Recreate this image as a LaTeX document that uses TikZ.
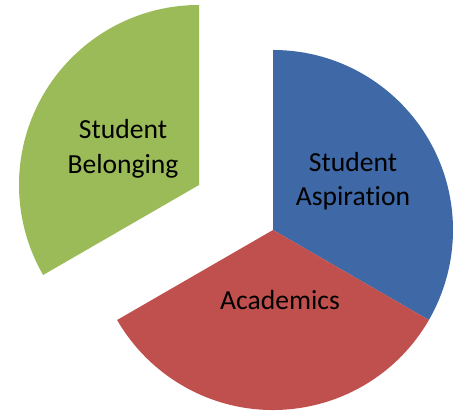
\documentclass[tikz,border=0pt]{standalone}
\usepackage{fontspec}
\setmainfont{Carlito}[Ligatures=NoCommon]
\begin{document}
\begin{tikzpicture}[x=0.02cm,y=0.02cm]

% Define the colors
\definecolor{piegreen}{RGB}{155,187,89}
\definecolor{pieblue}{RGB}{62,104,166}
\definecolor{piered}{RGB}{192,80,77}

\tikzset{slicelabel/.style={align=center, text=black, font=\fontsize{15.7}{19.6}\selectfont}}

\useasboundingbox (0,0) rectangle (464,412);

% Centres of the slices
\coordinate (middle) at (273,182);
\coordinate (pulled) at (199,227);

% Draw the blue slice
\fill[pieblue] (middle) -- ++(90:180) arc (90:-30:180) -- cycle;

% Draw the red slice
\fill[piered] (middle) -- ++(-30:180) arc (-30:-150:180) -- cycle;

% Draw the green slice
\fill[piegreen] (pulled) -- ++(90:180) arc (90:210:180) -- cycle;

% Write the labels
\node[slicelabel] (belonging) at (123,263) {Student\\Belonging};
\node[slicelabel] (aspiration) at (353,231) {Student\\Aspiration};
\node[slicelabel] (academics) at (280,112) {Academics};

\end{tikzpicture}
\end{document}
